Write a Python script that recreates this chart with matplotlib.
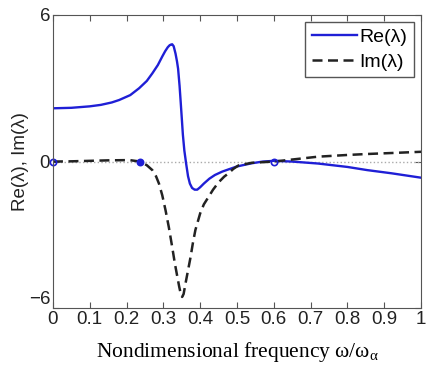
import matplotlib
matplotlib.use("Agg")
import matplotlib.pyplot as plt

# Re(lambda)
re_x = [0.0, 0.05, 0.10, 0.13, 0.16, 0.18, 0.21, 0.234, 0.255, 0.27, 0.285, 0.297, 0.305,
        0.312, 0.317, 0.321, 0.324, 0.328, 0.333, 0.337, 0.34, 0.344, 0.347, 0.35, 0.353,
        0.357, 0.362, 0.367, 0.372, 0.378, 0.385, 0.392, 0.4, 0.41, 0.425,
        0.44, 0.46, 0.477, 0.5, 0.54, 0.57, 0.6, 0.65, 0.72, 0.8, 0.854, 0.92, 1.0]
re_y = [2.18, 2.2, 2.26, 2.32, 2.42, 2.52, 2.72, 3.0, 3.3, 3.61, 3.95, 4.3, 4.52,
        4.68, 4.76, 4.79, 4.8, 4.72, 4.42, 4.1, 3.8, 3.1, 2.45, 1.78, 1.1,
        0.45, -0.1, -0.6, -0.9, -1.08, -1.15, -1.15, -1.05, -0.9, -0.7,
        -0.55, -0.41, -0.32, -0.2, -0.07, 0.0, 0.03, 0.0, -0.08, -0.22, -0.35, -0.48, -0.66]

# Im(lambda)
im_x = [0.0, 0.05, 0.10, 0.15, 0.208, 0.237, 0.255, 0.27, 0.28, 0.288, 0.297, 0.306, 0.315,
        0.324, 0.331, 0.338, 0.343, 0.347, 0.351, 0.355, 0.36, 0.367, 0.374, 0.38, 0.387,
        0.4, 0.41, 0.423, 0.435, 0.45, 0.465, 0.477, 0.49, 0.504, 0.54, 0.6, 0.66, 0.72,
        0.8, 0.854, 0.92, 1.0]
im_y = [0.0, 0.01, 0.03, 0.05, 0.06, 0.0, -0.15, -0.35, -0.6, -0.9, -1.38, -2.0, -2.7,
        -3.5, -4.15, -4.72, -5.12, -5.4, -5.54, -5.42, -5.0, -4.45, -3.9, -3.35, -2.8,
        -2.12, -1.75, -1.44, -1.15, -0.85, -0.62, -0.48, -0.3, -0.16, -0.05, 0.0, 0.1, 0.2,
        0.27, 0.31, 0.35, 0.4]

# circles on the zero line
mark_x = [0.0, 0.237, 0.6]
mark_y = [0.0, 0.0, 0.0]
mark_fill = ["none", "#1f1fd6", "none"]

x_ticks = [0, 0.1, 0.2, 0.3, 0.4, 0.5, 0.6, 0.7, 0.8, 0.9, 1]
x_labels = ["0", "0.1", "0.2", "0.3", "0.4", "0.5", "0.6", "0.7", "0.8", "0.9", "1"]
y_ticks = [-6, 0, 6]

fig = plt.figure(figsize=(4.27, 3.74), dpi=100)
ax = fig.add_axes([0.124, 0.176, 0.862, 0.784])

ax.plot([0, 1], [0, 0], color="#aaaaaa", linestyle=":", linewidth=1.0)
ax.plot(re_x, re_y, color="#1f1fd6", linewidth=1.7, label="Re(λ)")
ax.plot(im_x, im_y, color="#222222", linewidth=1.8, linestyle=(0, (4, 2.2)), label="Im(λ)")
for mx, my, mf in zip(mark_x, mark_y, mark_fill):
    ax.plot(mx, my, linestyle="none", marker="o", markersize=4.5, clip_on=False,
            markerfacecolor=mf, markeredgecolor="#1f1fd6", markeredgewidth=1.2)

ax.set_xlim(0, 1)
ax.set_ylim(-6, 6)
ax.set_xticks(x_ticks)
ax.set_xticklabels(x_labels)
ax.set_yticks(y_ticks)
ax.tick_params(direction="in", top=True, right=True, length=4, color="#555555",
               labelsize=13.5, pad=2, labelcolor="#222222")
for lab in ax.get_xticklabels() + ax.get_yticklabels():
    lab.set_family("Liberation Sans")
# keep "-6" clear of the x tick "0"
ax.get_yticklabels()[0].set_verticalalignment("bottom")
for s in ax.spines.values():
    s.set_color("#555555")

ax.set_ylabel("Re(λ), Im(λ)", fontsize=13.5, family="Liberation Sans", labelpad=0,
              color="#222222")
ax.set_xlabel("Nondimensional frequency ω/ω$_\\mathregular{α}$", fontsize=15.5,
              family="Liberation Serif", labelpad=9)

leg = ax.legend(loc="upper right", prop={"family": "Liberation Sans", "size": 14},
                handlelength=2.3, handletextpad=0.15, borderpad=0.35, labelspacing=0.35,
                fancybox=False, framealpha=1, borderaxespad=0.35)
leg.get_frame().set_edgecolor("#555555")

fig.savefig("out.png", dpi=100)
